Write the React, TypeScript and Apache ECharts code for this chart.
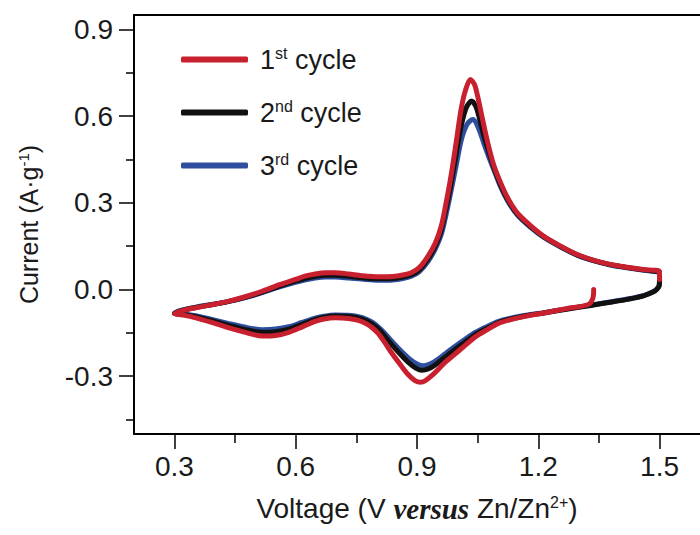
import React, { useEffect, useRef } from "react";
import * as echarts from "echarts";

const xMajorTicks = [0.3, 0.6, 0.9, 1.2, 1.5];
const xMinorTicks = [0.45, 0.75, 1.05, 1.35];
const yMajorTicks = [-0.3, 0, 0.3, 0.6, 0.9];
const yMinorTicks = [-0.45, -0.15, 0.15, 0.45, 0.75];

const seriesNames = ["1st cycle", "2nd cycle", "3rd cycle"];

const cycle1: number[][] = [
  [1.337, 0.0], [1.335, -0.03], [1.324, -0.052], [1.27, -0.066], [1.214, -0.081], [1.17, -0.092],
  [1.132, -0.104], [1.1, -0.118], [1.075, -0.138], [1.045, -0.163], [1.017, -0.196], [0.99, -0.228],
  [0.968, -0.254], [0.95, -0.28], [0.935, -0.3], [0.92, -0.316], [0.909, -0.321], [0.895, -0.315],
  [0.878, -0.294], [0.86, -0.262], [0.837, -0.219], [0.82, -0.183], [0.804, -0.152], [0.79, -0.133],
  [0.775, -0.119], [0.755, -0.107], [0.73, -0.1], [0.698, -0.098], [0.67, -0.102], [0.648, -0.11], [0.615, -0.13],
  [0.583, -0.148], [0.55, -0.159], [0.517, -0.161], [0.48, -0.15], [0.435, -0.133], [0.39, -0.113],
  [0.353, -0.098], [0.32, -0.088], [0.3, -0.083],
  [0.32, -0.073], [0.353, -0.063], [0.395, -0.052], [0.435, -0.04], [0.475, -0.025], [0.517, -0.006],
  [0.56, 0.017], [0.599, 0.035], [0.625, 0.047], [0.648, 0.054], [0.675, 0.058], [0.698, 0.058],
  [0.73, 0.054], [0.763, 0.048], [0.804, 0.044], [0.84, 0.045], [0.865, 0.05], [0.886, 0.058],
  [0.905, 0.075], [0.927, 0.115], [0.945, 0.16], [0.96, 0.219], [0.972, 0.3], [0.984, 0.392],
  [0.997, 0.51], [1.009, 0.623], [1.02, 0.69], [1.032, 0.727], [1.042, 0.71], [1.05, 0.669],
  [1.062, 0.59], [1.075, 0.508], [1.09, 0.43], [1.107, 0.369], [1.125, 0.315], [1.148, 0.265],
  [1.18, 0.222], [1.214, 0.184], [1.255, 0.15], [1.296, 0.121], [1.338, 0.101], [1.378, 0.087],
  [1.42, 0.077], [1.46, 0.069], [1.499, 0.063], [1.5, 0.035],
];

const cycle2: number[][] = [
  [1.5, 0.035], [1.499, 0.012], [1.494, 0.002], [1.485, -0.008], [1.46, -0.022], [1.42, -0.034],
  [1.378, -0.044], [1.33, -0.055], [1.27, -0.068], [1.214, -0.081], [1.17, -0.091], [1.132, -0.102],
  [1.1, -0.115], [1.075, -0.133], [1.045, -0.155], [1.017, -0.184], [0.99, -0.212], [0.968, -0.236],
  [0.95, -0.256], [0.935, -0.27], [0.92, -0.278], [0.91, -0.279], [0.897, -0.272], [0.88, -0.254],
  [0.86, -0.226], [0.837, -0.19], [0.82, -0.161], [0.804, -0.136], [0.79, -0.12], [0.775, -0.108],
  [0.755, -0.098], [0.73, -0.093], [0.698, -0.092], [0.67, -0.096], [0.648, -0.104], [0.615, -0.121], [0.583, -0.137],
  [0.55, -0.146], [0.517, -0.148], [0.48, -0.14], [0.435, -0.124], [0.39, -0.107], [0.353, -0.094],
  [0.32, -0.086], [0.3, -0.082],
  [0.32, -0.072], [0.353, -0.062], [0.395, -0.052], [0.435, -0.041], [0.475, -0.027], [0.517, -0.009],
  [0.56, 0.012], [0.599, 0.029], [0.625, 0.039], [0.648, 0.045], [0.675, 0.049], [0.698, 0.049],
  [0.73, 0.046], [0.763, 0.041], [0.804, 0.037], [0.84, 0.038], [0.865, 0.043], [0.886, 0.051],
  [0.905, 0.067], [0.927, 0.105], [0.945, 0.15], [0.96, 0.205], [0.972, 0.28], [0.984, 0.365],
  [0.997, 0.47], [1.01, 0.57], [1.022, 0.63], [1.035, 0.652], [1.045, 0.635], [1.053, 0.6],
  [1.064, 0.54], [1.077, 0.48], [1.092, 0.415], [1.107, 0.362], [1.125, 0.31], [1.148, 0.262],
  [1.18, 0.219], [1.214, 0.182], [1.255, 0.149], [1.296, 0.12], [1.338, 0.1], [1.378, 0.086],
  [1.42, 0.076], [1.46, 0.068], [1.499, 0.062],
];

const cycle3: number[][] = [
  [1.5, 0.05], [1.499, 0.015], [1.494, 0.003], [1.485, -0.007], [1.46, -0.021], [1.42, -0.033],
  [1.378, -0.043], [1.33, -0.054], [1.27, -0.067], [1.214, -0.08], [1.17, -0.089], [1.132, -0.099],
  [1.1, -0.111], [1.075, -0.127], [1.045, -0.148], [1.017, -0.174], [0.99, -0.201], [0.968, -0.224],
  [0.95, -0.243], [0.935, -0.256], [0.922, -0.263], [0.912, -0.264], [0.9, -0.258], [0.883, -0.242],
  [0.86, -0.212], [0.837, -0.178], [0.82, -0.151], [0.804, -0.129], [0.79, -0.114], [0.775, -0.103],
  [0.755, -0.094], [0.73, -0.089], [0.698, -0.088], [0.67, -0.092], [0.648, -0.099], [0.615, -0.114], [0.583, -0.129],
  [0.55, -0.137], [0.517, -0.139], [0.48, -0.132], [0.435, -0.118], [0.39, -0.103], [0.353, -0.091],
  [0.32, -0.084], [0.3, -0.081],
  [0.32, -0.071], [0.353, -0.061], [0.395, -0.051], [0.435, -0.041], [0.475, -0.028], [0.517, -0.011],
  [0.56, 0.009], [0.599, 0.025], [0.625, 0.034], [0.648, 0.04], [0.675, 0.043], [0.698, 0.043],
  [0.73, 0.04], [0.763, 0.036], [0.804, 0.032], [0.84, 0.033], [0.865, 0.038], [0.886, 0.046],
  [0.905, 0.061], [0.927, 0.097], [0.945, 0.14], [0.96, 0.19], [0.972, 0.26], [0.984, 0.34],
  [0.997, 0.43], [1.01, 0.52], [1.024, 0.572], [1.038, 0.588], [1.048, 0.572], [1.057, 0.54],
  [1.067, 0.5], [1.08, 0.45], [1.094, 0.4], [1.107, 0.355], [1.125, 0.305], [1.148, 0.258],
  [1.18, 0.216], [1.214, 0.18], [1.255, 0.147], [1.296, 0.119], [1.338, 0.099], [1.378, 0.085],
  [1.42, 0.075], [1.46, 0.067], [1.499, 0.061],
];

const RED = "#c8202f";
const BLACK = "#111111";
const BLUE = "#2f4f9e";
const TEXT = "#1a1a1a";
const FONT = "Liberation Sans, Arial, sans-serif";

export default function App() {
  const ref = useRef<HTMLDivElement>(null);
  useEffect(() => {
    if (!ref.current) return;
    const chart = echarts.init(ref.current, undefined, { renderer: "svg" });
    const lineSeries = (name: string, data: number[][], color: string) => ({
      name,
      type: "line",
      data,
      xAxisIndex: 0,
      yAxisIndex: 0,
      showSymbol: false,
      symbol: "none",
      smooth: 0.3,
      color,
      lineStyle: { color, width: 5, cap: "round", join: "round" },
      itemStyle: { color },
    });
    const minorAxis = {
      show: true,
      axisLine: { show: false, onZero: false },
      axisLabel: { show: false },
      splitLine: { show: false },
    };
    chart.setOption({
      animation: false,
      grid: { left: 134, top: 15, width: 570, height: 419 },
      legend: {
        orient: "vertical",
        left: 176,
        top: 40,
        data: seriesNames,
        icon: "roundRect",
        itemWidth: 67,
        itemHeight: 6,
        itemGap: 24,
        formatter: (n: string) => {
          const m = n.match(/^(\d)(\w\w) (.*)$/);
          return m ? `${m[1]}{sup|${m[2]}} ${m[3]}` : n;
        },
        textStyle: {
          fontFamily: FONT,
          fontSize: 27,
          color: TEXT,
          padding: [0, 0, 0, 7],
          lineHeight: 29,
          rich: {
            sup: { fontFamily: FONT, fontSize: 16, color: TEXT, verticalAlign: "top", lineHeight: 29, padding: [0, 0, 10, 0] },
          },
        },
      },
      xAxis: [
        {
          type: "value",
          min: 0.2,
          max: 1.6,
          position: "bottom",
          name: "Voltage (V {it|versus} Zn/Zn{sup|2+})",
          nameLocation: "middle",
          nameGap: 60,
          nameTextStyle: {
            fontFamily: FONT,
            fontSize: 28,
            color: TEXT,
            rich: {
              it: { fontFamily: "Liberation Serif, serif", fontStyle: "italic", fontWeight: "bold", fontSize: 29, color: TEXT },
              sup: { fontFamily: FONT, fontSize: 16, color: TEXT, padding: [0, 0, 13, 0] },
            },
          },
          axisLine: { show: true, onZero: false, lineStyle: { color: "#000", width: 2 } },
          axisTick: { show: true, length: 15, customValues: xMajorTicks, lineStyle: { color: "#000", width: 1.5 } },
          axisLabel: { customValues: xMajorTicks, fontFamily: FONT, fontSize: 28, color: TEXT, margin: 18, formatter: (v: number) => v.toFixed(1) },
          splitLine: { show: false },
        },
        {
          type: "value",
          min: 0.2,
          max: 1.6,
          position: "bottom",
          ...minorAxis,
          axisTick: { show: true, length: 9, customValues: xMinorTicks, lineStyle: { color: "#000", width: 1.5 } },
        },
        {
          type: "value",
          min: 0.2,
          max: 1.6,
          position: "top",
          axisLine: { show: true, onZero: false, lineStyle: { color: "#000", width: 2 } },
          axisTick: { show: false },
          axisLabel: { show: false },
          splitLine: { show: false },
        },
      ],
      yAxis: [
        {
          type: "value",
          min: -0.5,
          max: 0.95,
          position: "left",
          name: "Current (A·g{sup|-1})",
          nameLocation: "middle",
          nameGap: 92,
          nameRotate: 90,
          nameTextStyle: {
            fontFamily: FONT,
            fontSize: 25,
            color: TEXT,
            rich: {
              sup: { fontFamily: FONT, fontSize: 15, color: TEXT, padding: [0, 0, 11, 0] },
            },
          },
          axisLine: { show: true, onZero: false, lineStyle: { color: "#000", width: 2 } },
          axisTick: { show: true, length: 15, customValues: yMajorTicks, lineStyle: { color: "#000", width: 1.5 } },
          axisLabel: { customValues: yMajorTicks, fontFamily: FONT, fontSize: 28, color: TEXT, margin: 21, formatter: (v: number) => v.toFixed(1) },
          splitLine: { show: false },
        },
        {
          type: "value",
          min: -0.5,
          max: 0.95,
          position: "left",
          ...minorAxis,
          axisTick: { show: true, length: 8, customValues: yMinorTicks, lineStyle: { color: "#000", width: 1.5 } },
        },
      ],
      series: [
        lineSeries(seriesNames[2], cycle3, BLUE),
        lineSeries(seriesNames[1], cycle2, BLACK),
        lineSeries(seriesNames[0], cycle1, RED),
      ],
    });
    return () => chart.dispose();
  }, []);
  return (
    <div
      ref={ref}
      style={{ position: "absolute", left: 0, top: 0, width: 700, height: 535, background: "#fff" }}
    />
  );
}
